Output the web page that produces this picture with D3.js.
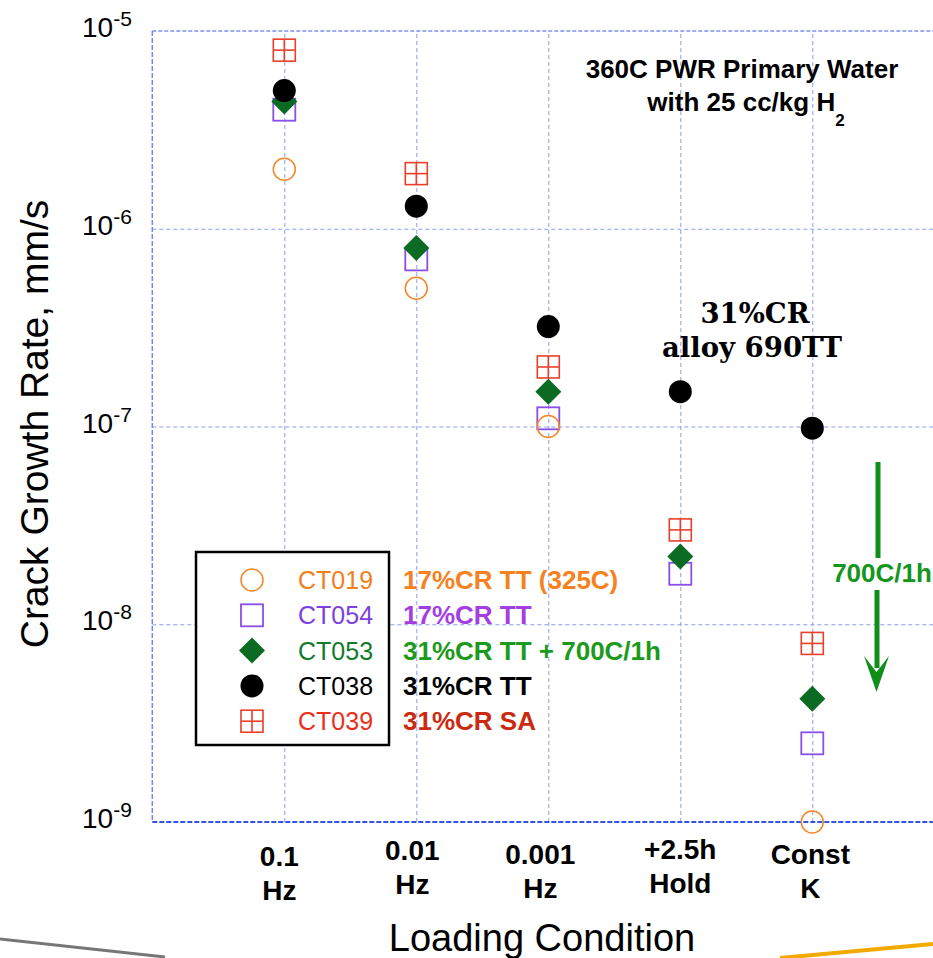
<!DOCTYPE html>
<html>
<head>
<meta charset="utf-8">
<script src="https://cdn.jsdelivr.net/npm/d3@7"></script>
<style>
  body { margin: 0; background: #fff; }
  svg { display: block; }
</style>
</head>
<body>
<div id="chart"></div>
<script>
// loading conditions (two text lines each)
var conditions = [["0.1", "Hz"], ["0.01", "Hz"], ["0.001", "Hz"], ["+2.5h", "Hold"], ["Const", "K"]];

// y axis decades and their exponent labels
var yTicks = [1e-5, 1e-6, 1e-7, 1e-8, 1e-9];
var yExps = ["-5", "-6", "-7", "-8", "-9"];

// crack growth rate, mm/s
var ct019 = [2.0e-6, 5.0e-7, 1.0e-7, null, 1.0e-9];
var ct054 = [4.0e-6, 7.0e-7, 1.1e-7, 1.8e-8, 2.5e-9];
var ct053 = [4.4e-6, 8.0e-7, 1.5e-7, 2.2e-8, 4.2e-9];
var ct038 = [5.0e-6, 1.3e-6, 3.2e-7, 1.5e-7, 9.8e-8];
var ct039 = [8.0e-6, 1.9e-6, 2.0e-7, 3.0e-8, 8.0e-9];

var specimens = ["CT019", "CT054", "CT053", "CT038", "CT039"];
var descriptions = ["17%CR TT (325C)", "17%CR TT", "31%CR TT + 700C/1h", "31%CR TT", "31%CR SA"];

function init() {
    var w = 933;
    var h = 958;

    var svg = d3.select("#chart")
                .append("svg")
                .attr("width", w)
                .attr("height", h)
                .style("font-family", "Arial, 'Liberation Sans', sans-serif");

    var left = 152.3, top = 31, bottom = 822;

    // category i sits at x(i + 1)
    var x = d3.scaleLinear().domain([0, 6]).range([left, left + 6 * 132]);
    var y = d3.scaleLog().domain([1e-9, 1e-5]).range([bottom, top]);

    // series styles
    var series = [
        {name: "CT019", values: ct019, type: "circle",  color: "#f5862a", text: "#f0801e", desc: "#f5821f"},
        {name: "CT054", values: ct054, type: "square",  color: "#8a4fe6", text: "#7d3fe2", desc: "#a43ee0"},
        {name: "CT053", values: ct053, type: "diamond", color: "#0b6b23", text: "#137a2c", desc: "#1b9a1b"},
        {name: "CT038", values: ct038, type: "dot",     color: "#000000", text: "#000000", desc: "#000000"},
        {name: "CT039", values: ct039, type: "plus",    color: "#e8402a", text: "#e8301a", desc: "#cc2a10"}
    ];

    // grid - vertical lines
    var xGrid = d3.axisBottom(x).tickValues([1, 2, 3, 4, 5])
                  .tickSize(-(bottom - top)).tickFormat("");
    svg.append("g")
       .attr("transform", "translate(0," + bottom + ")")
       .call(xGrid)
       .call(function(g){
           g.select(".domain").remove();
           g.selectAll("line").attr("stroke", "#8c9cf2").attr("stroke-dasharray", "4,3");
       });

    // grid - horizontal lines
    var yGrid = d3.axisLeft(y).tickValues([1e-6, 1e-7, 1e-8])
                  .tickSize(-(w - left)).tickFormat("");
    svg.append("g")
       .attr("transform", "translate(" + left + ",0)")
       .call(yGrid)
       .call(function(g){
           g.select(".domain").remove();
           g.selectAll("line").attr("stroke", "#8c9cf2").attr("stroke-dasharray", "4,3");
       });

    // frame lines
    svg.append("line").attr("x1", left).attr("x2", w).attr("y1", top).attr("y2", top)
       .attr("stroke", "#7f90ee").attr("stroke-width", 1.5).attr("stroke-dasharray", "4,2");
    svg.append("line").attr("x1", left).attr("x2", left).attr("y1", top).attr("y2", bottom)
       .attr("stroke", "#7486ec").attr("stroke-width", 1.5).attr("stroke-dasharray", "5,2");
    svg.append("line").attr("x1", left).attr("x2", w).attr("y1", bottom).attr("y2", bottom)
       .attr("stroke", "#3553e2").attr("stroke-width", 2).attr("stroke-dasharray", "5,2");

    // y tick labels 10^n
    yTicks.forEach(function(t, i){
        var lab = svg.append("text")
                     .attr("x", 82)
                     .attr("y", y(t) + 6)
                     .attr("font-size", 28)
                     .attr("fill", "#000");
        lab.append("tspan").text("10");
        lab.append("tspan").attr("dy", -11).attr("font-size", 21).text(yExps[i]);
    });

    // x tick labels
    var nudge = [[-5, 4], [-4, -2], [-8, 2], [0, -3], [-2, 2]];
    conditions.forEach(function(c, i){
        var t = svg.append("text")
                   .attr("text-anchor", "middle")
                   .attr("font-weight", "bold")
                   .attr("font-size", 28)
                   .attr("fill", "#000");
        c.forEach(function(line, j){
            t.append("tspan")
             .attr("x", x(i + 1) + nudge[i][0])
             .attr("y", 862 + nudge[i][1] + j * 34)
             .text(line);
        });
    });

    // axis titles
    svg.append("text")
       .attr("x", 542).attr("y", 951)
       .attr("text-anchor", "middle")
       .attr("font-size", 38)
       .text("Loading Condition");
    svg.append("text")
       .attr("transform", "translate(48," + 424 + ") rotate(-90)")
       .attr("text-anchor", "middle")
       .attr("font-size", 39)
       .text("Crack Growth Rate, mm/s");

    function marker(g, type, color, cx, cy) {
        if (type === "circle") {
            g.append("circle").attr("cx", cx).attr("cy", cy).attr("r", 11)
             .attr("fill", "none").attr("stroke", color).attr("stroke-width", 1.5);
        } else if (type === "square") {
            g.append("rect").attr("x", cx - 11).attr("y", cy - 11).attr("width", 22).attr("height", 22)
             .attr("fill", "none").attr("stroke", color).attr("stroke-width", 1.8);
        } else if (type === "diamond") {
            g.append("path").attr("d", "M" + cx + "," + (cy - 13) + "L" + (cx + 13) + "," + cy +
                                       "L" + cx + "," + (cy + 13) + "L" + (cx - 13) + "," + cy + "Z")
             .attr("fill", color);
        } else if (type === "dot") {
            g.append("circle").attr("cx", cx).attr("cy", cy).attr("r", 11.5).attr("fill", color);
        } else {
            g.append("rect").attr("x", cx - 11).attr("y", cy - 11).attr("width", 22).attr("height", 22)
             .attr("fill", "none").attr("stroke", color).attr("stroke-width", 1.6);
            g.append("line").attr("x1", cx - 11).attr("x2", cx + 11).attr("y1", cy).attr("y2", cy)
             .attr("stroke", color).attr("stroke-width", 1.6);
            g.append("line").attr("x1", cx).attr("x2", cx).attr("y1", cy - 11).attr("y2", cy + 11)
             .attr("stroke", color).attr("stroke-width", 1.6);
        }
    }

    // data points; drawing order matches the overlaps in the figure
    var order = [1, 0, 2, 3, 4];
    var pts = svg.append("g");
    order.forEach(function(k){
        var s = series[k];
        s.values.forEach(function(v, i){
            if (v == null) return;
            marker(pts, s.type, s.color, x(i + 1), y(v));
        });
    });

    // legend
    var lg = svg.append("g");
    lg.append("rect").attr("x", 196).attr("y", 552).attr("width", 193).attr("height", 193)
      .attr("fill", "#fff").attr("stroke", "#000").attr("stroke-width", 2.5);
    series.forEach(function(s, i){
        var ry = 580 + i * 35.3;
        marker(lg, s.type, s.color, 252, ry);
        lg.append("text").attr("x", 298).attr("y", ry + 9)
          .attr("font-size", 25).attr("fill", s.text).text(specimens[i]);
        svg.append("text").attr("x", 403).attr("y", ry + 9)
           .attr("font-size", 26).attr("font-weight", "bold").attr("fill", s.desc).text(descriptions[i]);
    });

    // environment note
    svg.append("text").attr("x", 742).attr("y", 78)
       .attr("text-anchor", "middle").attr("font-size", 26).attr("font-weight", "bold")
       .text("360C PWR Primary Water");
    var env2 = svg.append("text").attr("x", 746).attr("y", 111)
       .attr("text-anchor", "middle").attr("font-size", 26).attr("font-weight", "bold");
    env2.append("tspan").text("with 25 cc/kg H");
    env2.append("tspan").attr("dy", 15).attr("font-size", 17).text("2");

    // alloy note
    var alloy = svg.append("text").attr("text-anchor", "middle")
       .attr("font-family", "'DejaVu Serif', serif").attr("font-weight", "bold").attr("font-size", 27.5);
    alloy.append("tspan").attr("x", 755).attr("y", 323).text("31%CR");
    alloy.append("tspan").attr("x", 752).attr("y", 357).text("alloy 690TT");

    // green arrow for the 700C/1h treatment
    var green = "#0f8f1a";
    svg.append("line").attr("x1", 878).attr("x2", 878).attr("y1", 462).attr("y2", 558)
       .attr("stroke", green).attr("stroke-width", 5);
    svg.append("line").attr("x1", 877).attr("x2", 877).attr("y1", 590).attr("y2", 668)
       .attr("stroke", green).attr("stroke-width", 5);
    svg.append("path").attr("d", "M864,656L876.5,692L889,656L876.5,672Z").attr("fill", green);
    svg.append("text").attr("x", 882).attr("y", 582)
       .attr("text-anchor", "middle").attr("font-size", 26).attr("font-weight", "bold")
       .attr("fill", "#14961e").text("700C/1h");

    // slide decorations at the bottom
    svg.append("line").attr("x1", 0).attr("y1", 939).attr("x2", 165).attr("y2", 957)
       .attr("stroke", "#777").attr("stroke-width", 3);
    svg.append("line").attr("x1", 780).attr("y1", 958).attr("x2", 933).attr("y2", 944)
       .attr("stroke", "#f2a900").attr("stroke-width", 4);
}
window.onload = init;
</script>
</body>
</html>
